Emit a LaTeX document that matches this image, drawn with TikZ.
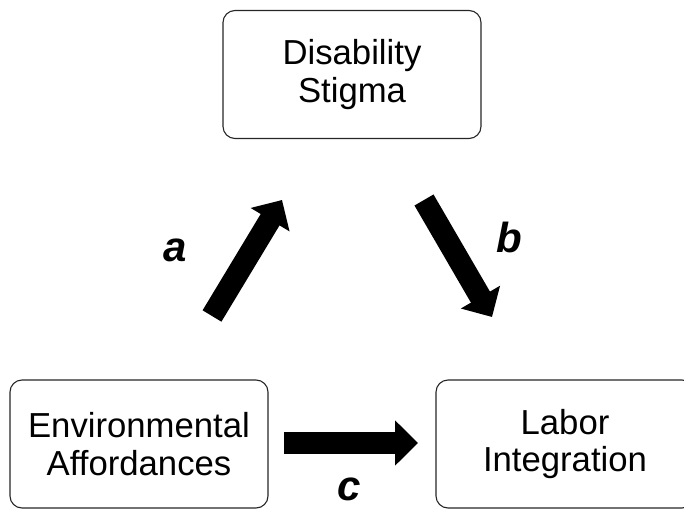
\documentclass[tikz,border=0pt]{standalone}
\usepackage{fontspec}
\setmainfont{Liberation Sans}
\usetikzlibrary{arrows.meta}

\begin{document}
\begin{tikzpicture}[x=1pt, y=-1pt]

\tikzset{%
    factor/.style={draw=black!85, line width=1.1pt, rounded corners=12pt,
        minimum width=258pt, minimum height=128pt, inner sep=0pt,
        align=center, font=\fontsize{34.7}{37.5}\selectfont},
    path arrow/.style={line width=22pt,
        -{Triangle[length=23pt, width=44pt]}},
    path label/.style={inner sep=0pt, font=\fontsize{42}{42}\selectfont\bfseries\itshape}
}

\useasboundingbox (0,0) rectangle (684,510);
\clip (0,0) rectangle (684,510);

\node[factor] (stigma) at (352,74.5) {Disability\\Stigma};
\node[factor] (env) at (139,444) {Environmental\\Affordances};
\node[factor] (labor) at (565,444) {Labor\\Integration};

% ends of the three paths
\coordinate (a start) at (212,316);
\coordinate (a end) at (282,200);
\coordinate (b start) at (424,200);
\coordinate (b end) at (492,317);
\coordinate (c start) at (284,443);
\coordinate (c end) at (418,443);

\draw[path arrow] (a start) -- (a end);
\draw[path arrow] (b start) -- (b end);
\draw[path arrow] (c start) -- (c end);

\node[path label] (a) at (175,250) {a};
\node[path label] (b) at (509,237) {b};
\node[path label] (c) at (349,489) {c};

\end{tikzpicture}
\end{document}
